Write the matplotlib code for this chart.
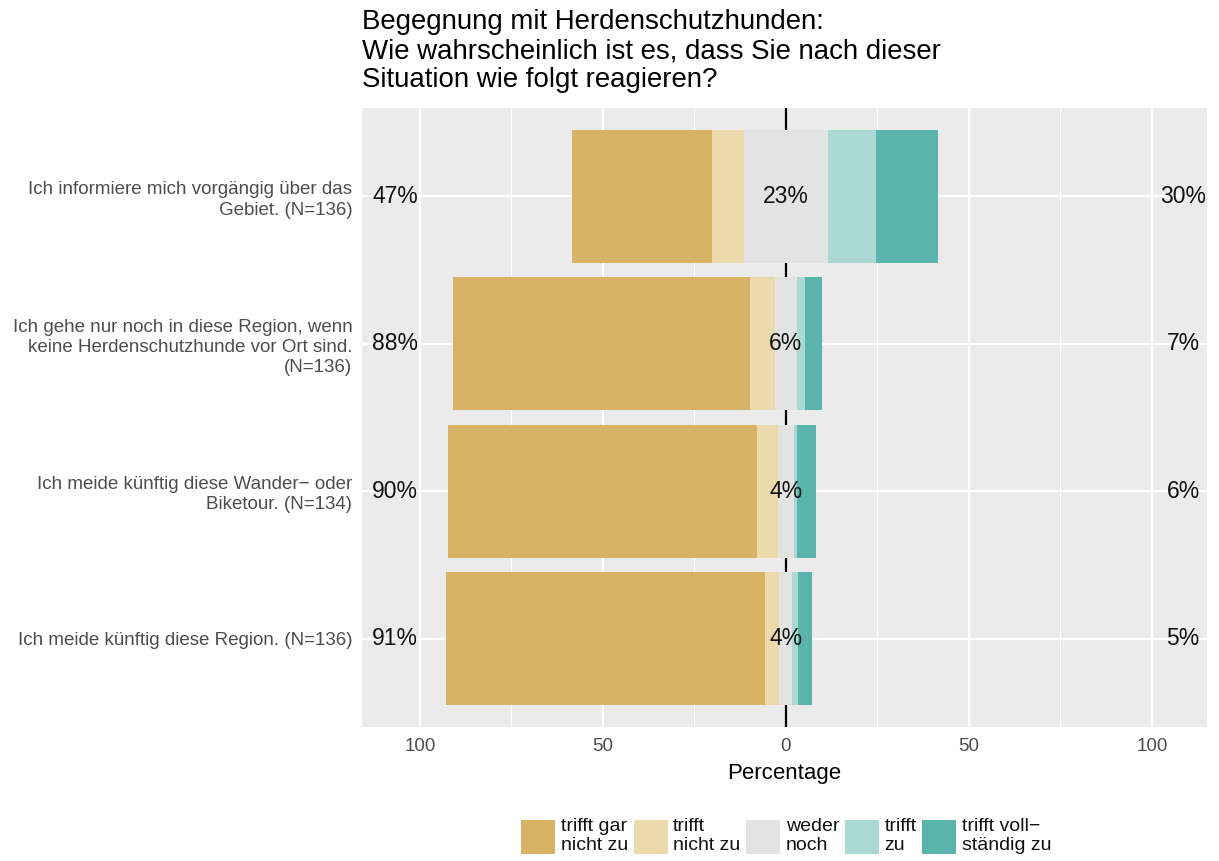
import matplotlib
matplotlib.use("Agg")
import matplotlib.pyplot as plt
import numpy as np
from matplotlib.patches import Patch
from matplotlib.ticker import FixedLocator

plt.rcParams['font.family'] = ['Liberation Sans', 'DejaVu Sans']

title = "Begegnung mit Herdenschutzhunden:\nWie wahrscheinlich ist es, dass Sie nach dieser\nSituation wie folgt reagieren?"

items = [
    "Ich informiere mich vorgängig über das\nGebiet. (N=136)",
    "Ich gehe nur noch in diese Region, wenn\nkeine Herdenschutzhunde vor Ort sind.\n(N=136)",
    "Ich meide künftig diese Wander\u2212 oder\nBiketour. (N=134)",
    "Ich meide künftig diese Region. (N=136)",
]
levels = ["trifft gar\nnicht zu", "trifft\nnicht zu", "weder\nnoch", "trifft\nzu", "trifft voll\u2212\nständig zu"]
colors = ["#D8B365", "#ECD9AC", "#E3E3E3", "#AAD9D3", "#5AB4AC"]

trifft_gar_nicht_zu = [38.3, 81.2, 84.3, 87.2]
trifft_nicht_zu     = [8.7, 6.8, 5.7, 3.8]
weder_noch          = [23.0, 6.0, 4.4, 3.6]
trifft_zu           = [13.1, 2.2, 0.7, 1.4]
trifft_vollstaendig = [16.9, 4.6, 5.3, 3.8]

low_labels  = ["47%", "88%", "90%", "91%"]
mid_labels  = ["23%", "6%", "4%", "4%"]
high_labels = ["30%", "7%", "6%", "5%"]

fig = plt.figure(figsize=(12.19, 8.61), dpi=100)
ax = fig.add_axes([0.297, 0.1556, 0.693, 0.719])
ax.set_facecolor("#EBEBEB")

n = len(items)
ypos = np.arange(n, 0, -1)  # top row first
h = 0.9

gar = np.array(trifft_gar_nicht_zu)
nz = np.array(trifft_nicht_zu)
neu = np.array(weder_noch)
zu = np.array(trifft_zu)
voll = np.array(trifft_vollstaendig)

ax.barh(ypos, -gar, left=-(neu / 2 + nz), height=h, color=colors[0], zorder=3, linewidth=0)
ax.barh(ypos, -nz, left=-(neu / 2), height=h, color=colors[1], zorder=3, linewidth=0)
ax.barh(ypos, neu, left=-(neu / 2), height=h, color=colors[2], zorder=3, linewidth=0)
ax.barh(ypos, zu, left=neu / 2, height=h, color=colors[3], zorder=3, linewidth=0)
ax.barh(ypos, voll, left=neu / 2 + zu, height=h, color=colors[4], zorder=3, linewidth=0)

ax.axvline(0, color="black", lw=1.6, zorder=2)

for y, lo, mi, hi in zip(ypos, low_labels, mid_labels, high_labels):
    ax.text(-106.8, y, lo, ha="center", va="center", fontsize=16.5, color="#111111", zorder=4)
    ax.text(0, y, mi, ha="center", va="center", fontsize=16.5, color="#111111", zorder=4)
    ax.text(108.5, y, hi, ha="center", va="center", fontsize=16.5, color="#111111", zorder=4)

ax.set_xlim(-115.8, 115.0)
ax.set_ylim(0.4, n + 0.6)
ax.set_xticks([-100, -50, 0, 50, 100])
ax.set_xticklabels(["100", "50", "0", "50", "100"])
ax.xaxis.set_minor_locator(FixedLocator([-75, -25, 25, 75]))
ax.set_yticks(ypos)
ax.set_yticklabels(items)

ax.grid(True, which="major", axis="x", color="white", lw=1.6, zorder=0)
ax.grid(True, which="minor", axis="x", color="white", lw=0.8, zorder=0)
ax.grid(True, which="major", axis="y", color="white", lw=1.6, zorder=0)
ax.set_axisbelow(True)
for s in ax.spines.values():
    s.set_visible(False)

ax.tick_params(axis="both", which="major", length=0, labelcolor="#4D4D4D")
ax.tick_params(axis="x", which="major", labelsize=13.5, pad=8)
ax.tick_params(axis="y", which="major", labelsize=13.5, pad=7)
ax.tick_params(axis="x", which="minor", length=0)
for lab in ax.get_yticklabels():
    lab.set_linespacing(1.25)
    lab.set_horizontalalignment("right")

ax.set_xlabel("Percentage", fontsize=16, color="black", labelpad=6)

fig.text(0.297, 0.989, title, ha="left", va="top", fontsize=19.9, color="black", linespacing=1.15)

handles = [Patch(facecolor=c, edgecolor="none") for c in colors]
leg = fig.legend(handles, levels, loc="lower center", bbox_to_anchor=(0.645, -0.006), ncol=5,
                 frameon=False, fontsize=14, handlelength=1.75, handleheight=2.3,
                 handletextpad=0.28, columnspacing=0.3, borderaxespad=0.2)
for t in leg.get_texts():
    t.set_linespacing(1.2)
    t.set_color("#111111")

fig.savefig("out.png", dpi=100)
